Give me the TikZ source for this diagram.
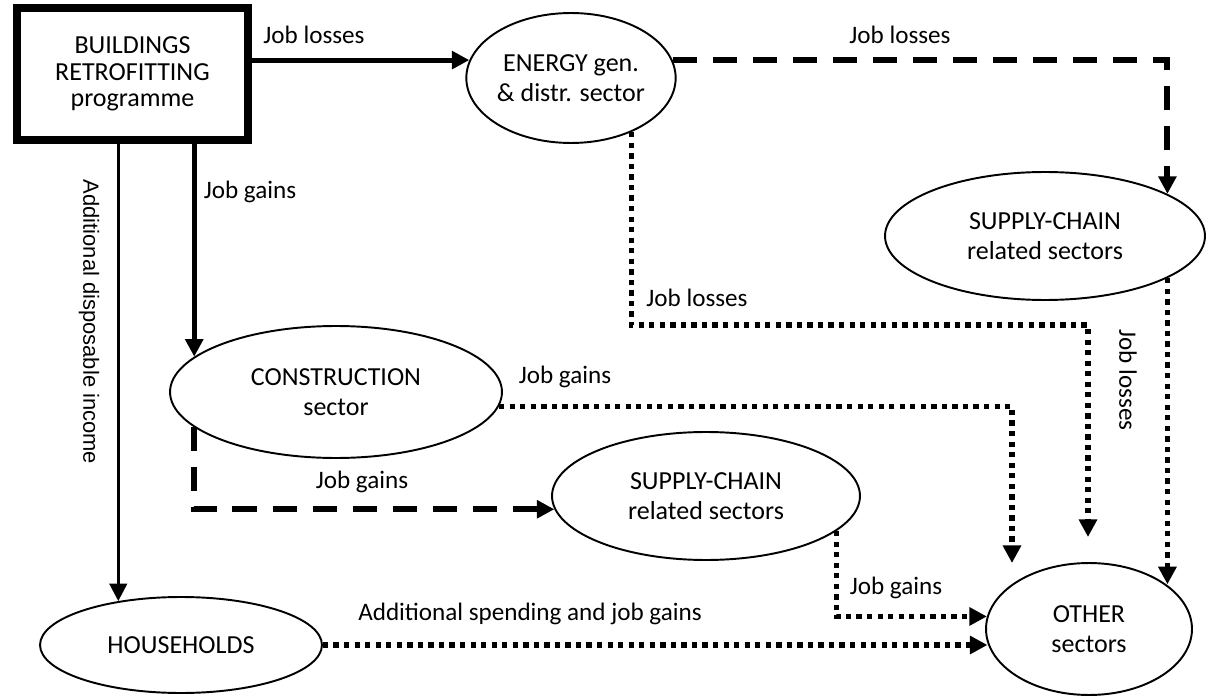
\documentclass[tikz,border=0pt]{standalone}
\usepackage{fontspec}
\setmainfont{Carlito}
\newfontfamily\arialfont{Liberation Sans}
\usetikzlibrary{arrows.meta,shapes.geometric}
\begin{document}
\begin{tikzpicture}[x=0.02cm,y=-0.02cm,
  txt/.style={font=\fontsize{14.8}{16.8}\selectfont},
  ell/.style={ellipse,draw,line width=1.1pt,inner sep=0pt,align=center,txt},
  lab/.style={font=\fontsize{14.3}{16.5}\selectfont,inner sep=0pt},
  tip/.style={-{Triangle[length=10pt,width=10pt]}},
  thickarrow/.style={tip,line width=2.85pt},
  thinarrow/.style={tip,line width=1.7pt},
  dashedarrow/.style={tip,line width=3.4pt,dash pattern=on 13.7pt off 9.1pt},
  dotarrow/.style={tip,line width=3pt,dash pattern=on 3pt off 3pt},
]
\useasboundingbox (0,0) rectangle (1208,696);

% nodes
\node[draw,line width=4.55pt,minimum width=4.62cm,minimum height=2.66cm,inner sep=0pt,align=center,
      font=\fontsize{14.8}{15.2}\selectfont] (box) at (132.5,74) {BUILDINGS\\RETROFITTING\\programme};
\node[ell,minimum width=3.88cm,minimum height=2.6cm] (en) at (571,78) {ENERGY gen.\\\& distr. sector};
\node[ell,minimum width=6.4cm,minimum height=2.56cm] (sup1) at (1045,236) {SUPPLY-CHAIN\\related sectors};
\node[ell,minimum width=6.64cm,minimum height=2.64cm] (con) at (336,392) {CONSTRUCTION\\sector};
\node[ell,minimum width=6.16cm,minimum height=2.56cm] (sup2) at (706,496) {SUPPLY-CHAIN\\related sectors};
\node[ell,minimum width=5.64cm,minimum height=1.92cm] (hh) at (181,645) {HOUSEHOLDS};
\node[ell,minimum width=4.12cm,minimum height=2.64cm] (oth) at (1089,629) {OTHER\\sectors};

% free ends
\coordinate (e1) at (1088,325);
\coordinate (e2) at (1088,537);
\coordinate (g1) at (1012,563);

% connectors
\draw[thickarrow] (box.east |- en.170) -- (en.170);
\draw[dashedarrow] (en.10) -| (sup1.19);
\draw[dotarrow] (en.-42) |- (e1) -- (e2);
\draw[thickarrow] (box.south -| con.166) -- (con.166);
\draw[thinarrow] (box.south -| hh.145) -- (hh.145);
\draw[dotarrow] (con.-5) -| (g1);
\draw[dashedarrow] (con.-166) |- (sup2.-175);
\draw[dotarrow] (sup2.-15) |- (oth.173);
\draw[dotarrow] (hh.east) -- (hh.east -| oth.188);
\draw[dotarrow] (sup1.-19) -- (sup1.-19 |- oth.30);

% labels
\node[lab] (l1) at (314,35) {Job losses};
\node[lab] (l2) at (900,35) {Job losses};
\node[lab] (l3) at (250,192) {Job gains};
\node[lab] (l4) at (697,298) {Job losses};
\node[lab] (l5) at (565,377) {Job gains};
\node[lab] (l6) at (362,482) {Job gains};
\node[lab] (l7) at (896,588) {Job gains};
\node[lab] (l8) at (530,614) {Additional spending and job gains};
\node[lab,rotate=-90] (l9) at (1128,380) {Job losses};
\node[inner sep=0pt,rotate=-90,font=\arialfont\fontsize{12.5}{14}\selectfont] (l10) at (89,322) {Additional disposable income};
\end{tikzpicture}
\end{document}
